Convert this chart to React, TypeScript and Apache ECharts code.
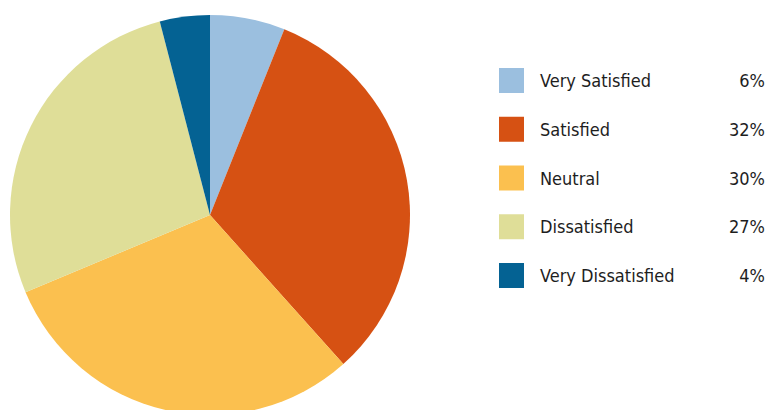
import React, { useEffect, useRef } from "react";
import * as echarts from "echarts";

const categories = ["Very Satisfied", "Satisfied", "Neutral", "Dissatisfied", "Very Dissatisfied"];
const values = [6, 32, 30, 27, 4];
const colors = ["#9bbfdf", "#d65113", "#fbc04f", "#dfde98", "#046293"];

export default function App() {
  const ref = useRef<HTMLDivElement>(null);
  useEffect(() => {
    const chart = echarts.init(ref.current!, undefined, { renderer: "svg" });
    const valueMap: Record<string, number> = {};
    categories.forEach((c, i) => (valueMap[c] = values[i]));
    const font = "DejaVu Sans Condensed";
    chart.setOption({
      animation: false,
      color: colors,
      legend: {
        orient: "vertical",
        left: 494,
        top: 63,
        padding: 5,
        icon: "rect",
        itemWidth: 25,
        itemHeight: 25,
        itemGap: 23.75,
        selectedMode: false,
        data: categories,
        formatter: (name: string) => `{n|${name}}{v|${valueMap[name]}%}`,
        textStyle: {
          fontFamily: font,
          fontSize: 18,
          color: "#1e1e1e",
          rich: {
            n: { width: 175, padding: [0, 0, 0, 11], fontFamily: font, fontSize: 18, color: "#1e1e1e" },
            v: { width: 50, align: "right", fontFamily: font, fontSize: 18, color: "#1e1e1e" },
          },
        },
      },
      series: [
        {
          type: "pie",
          center: [210, 215],
          radius: 200,
          startAngle: 90,
          clockwise: true,
          label: { show: false },
          labelLine: { show: false },
          emphasis: { disabled: true },
          itemStyle: { borderWidth: 0 },
          data: categories.map((c, i) => ({ name: c, value: values[i] })),
        },
      ],
    });
    return () => chart.dispose();
  }, []);
  return <div ref={ref} style={{ width: 768, height: 410, position: "absolute", left: 0, top: 0 }} />;
}
